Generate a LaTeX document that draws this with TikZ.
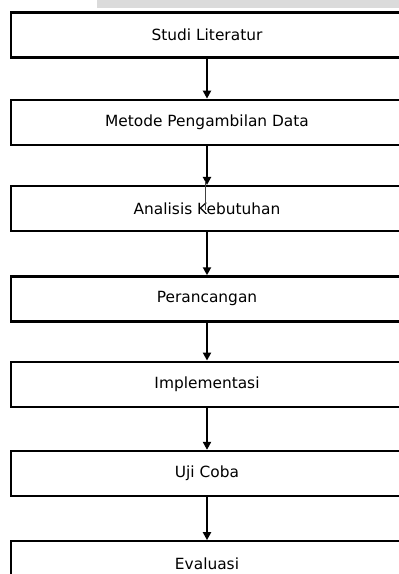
\documentclass[tikz,border=0pt]{standalone}
\usepackage{fontspec}
\setmainfont{DejaVu Sans}
\usetikzlibrary{positioning,arrows.meta}

\begin{document}
\begin{tikzpicture}[x=1pt, y=1pt, step box/.style = {draw, line width=2.3pt, rectangle, minimum width=392pt, minimum height=45pt, inner sep=0pt, font=\fontsize{15.4}{18}\selectfont}, flow/.style = {line width=2.2pt, -{Triangle[width=8pt,length=8pt]}}]
			\useasboundingbox (0,0) rectangle (399,-574);
			\fill[black!14] (97,0) rectangle (399,-8);
			\node[step box] (studi) at (207,-35) {Studi Literatur};
			\node[step box] (metode) [below=40pt of studi] {Metode Pengambilan Data};
			\node[step box] (analisis) [below=39pt of metode] {Analisis Kebutuhan};
			\node[step box] (rancang) [below=43pt of analisis] {Perancangan};
			\node[step box] (implementasi) [below=38pt of rancang] {Implementasi};
			\node[step box] (uji) [below=42pt of implementasi] {Uji Coba};
			\node[step box] (evaluasi) [below=43pt of uji] {Evaluasi};
			\coordinate (garis) at ([xshift=-2pt,yshift=4pt]analisis.north);
			\draw[flow] (studi) -- (metode);
			\draw[flow] (metode) -- (analisis);
			\draw[line width=1pt, black!75] (garis) -- ++(0,-29);
			\draw[flow] (analisis) -- (rancang);
			\draw[flow] (rancang) -- (implementasi);
			\draw[flow] (implementasi) -- (uji);
			\draw[flow] (uji) -- (evaluasi);
		\end{tikzpicture}
\end{document}
